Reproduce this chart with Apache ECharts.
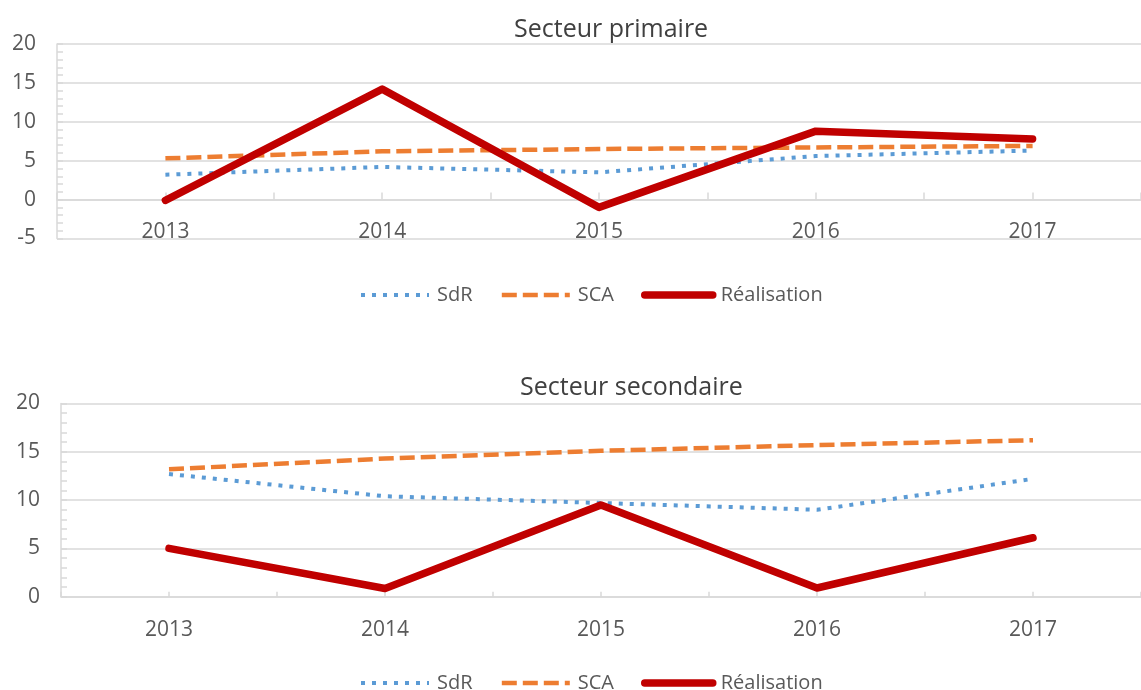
<!DOCTYPE html>
<html>
<head>
<meta charset="utf-8">
<script src="https://cdn.jsdelivr.net/npm/echarts@6/dist/echarts.min.js"></script>
<style>
html,body{margin:0;padding:0;background:#fff;}
#chart{width:1141px;height:690px;}
</style>
</head>
<body>
<div id="chart"></div>
<script>
const years = ['2013', '2014', '2015', '2016', '2017'];
const halfTicks = ['', '', '', '', '', '', '', '', '', ''];
const primSdR = [3.2, 4.2, 3.5, 5.6, 6.3];
const primSCA = [5.3, 6.2, 6.5, 6.7, 6.9];
const primReal = [-0.1, 14.2, -1.0, 8.8, 7.8];
const secSdR = [12.7, 10.4, 9.7, 9.0, 12.2];
const secSCA = [13.2, 14.3, 15.1, 15.7, 16.2];
const secReal = [5.0, 0.85, 9.5, 0.9, 6.1];
const titles = ['Secteur primaire', 'Secteur secondaire'];
const seriesNames = ['SdR', 'SCA', 'Réalisation'];

const FONT = 'Open Sans';
const GRID_C = '#d9d9d9';
const LABEL_C = '#595959';
const styles = [
  { color: '#5B9BD5', width: 4, type: [4, 7], cap: 'butt' },
  { color: '#ED7D31', width: 4.5, type: [15, 6], cap: 'butt' },
  { color: '#C00000', width: 7.5, type: 'solid', cap: 'round' }
];

function yAxis(gridIndex, min, max) {
  return {
    type: 'value', gridIndex, min, max, interval: 5,
    axisLine: { show: true, lineStyle: { color: GRID_C, width: 1.5 } },
    axisTick: { show: true, inside: true, length: 6, lineStyle: { color: GRID_C, width: 1.5 } },
    minorTick: { show: true, splitNumber: 5, length: 6, lineStyle: { color: GRID_C, width: 1.5 } },
    splitLine: { show: true, lineStyle: { color: GRID_C, width: 1.5 } },
    axisLabel: { margin: 21, fontSize: 21, fontFamily: FONT, color: LABEL_C }
  };
}
function xLabelAxis(gridIndex, margin) {
  return {
    type: 'category', gridIndex, data: years, position: 'bottom', boundaryGap: true,
    axisLine: { show: false, onZero: false },
    axisTick: { show: false },
    splitLine: { show: false },
    axisLabel: { margin, verticalAlign: 'middle', fontSize: 21, fontFamily: FONT, color: LABEL_C, interval: 0 }
  };
}
function xTickAxis(gridIndex, len) {
  return {
    type: 'category', gridIndex, data: halfTicks, position: 'bottom', boundaryGap: true,
    axisLine: { show: true, onZero: true, lineStyle: { color: GRID_C, width: 1.5 } },
    axisTick: { show: true, inside: true, length: len, interval: 0, lineStyle: { color: GRID_C, width: 1.5 } },
    axisLabel: { show: false },
    splitLine: { show: false }
  };
}
function makeSeries(name, data, idx, gridIdx) {
  const s = styles[idx];
  return {
    name, type: 'line', data, xAxisIndex: gridIdx * 2, yAxisIndex: gridIdx,
    symbol: 'none', smooth: false, z: 3 + idx,
    lineStyle: { color: s.color, width: s.width, type: s.type, cap: s.cap, join: 'round' },
    itemStyle: { color: s.color }
  };
}
function legend(top) {
  return {
    top, left: 354, itemWidth: 68, itemHeight: 14, itemGap: 27,
    textStyle: { fontSize: 20, fontFamily: FONT, color: LABEL_C, padding: [0, 0, 0, 3] },
    data: seriesNames.map((n, i) => ({
      name: n,
      itemStyle: { opacity: 0 },
      lineStyle: { color: styles[i].color, width: styles[i].width, type: styles[i].type, cap: styles[i].cap }
    }))
  };
}

const option = {
  backgroundColor: '#fff',
  animation: false,
  title: [
    { text: titles[0], left: 509, top: 12, textStyle: { fontSize: 25, fontWeight: 'normal', fontFamily: FONT, color: '#404040' } },
    { text: titles[1], left: 515, top: 370, textStyle: { fontSize: 25, fontWeight: 'normal', fontFamily: FONT, color: '#404040' } }
  ],
  legend: [legend(280), legend(668)],
  grid: [
    { left: 57, top: 44, width: 1087, height: 194.5 },
    { left: 61, top: 403.5, width: 1087, height: 193.2 }
  ],
  xAxis: [xLabelAxis(0, -6), xTickAxis(0, 7), xLabelAxis(1, 33), xTickAxis(1, 5)],
  yAxis: [yAxis(0, -5, 20), yAxis(1, 0, 20)],
  series: [
    makeSeries(seriesNames[0], primSdR, 0, 0),
    makeSeries(seriesNames[1], primSCA, 1, 0),
    makeSeries(seriesNames[2], primReal, 2, 0),
    makeSeries(seriesNames[0], secSdR, 0, 1),
    makeSeries(seriesNames[1], secSCA, 1, 1),
    makeSeries(seriesNames[2], secReal, 2, 1)
  ]
};
const chart = echarts.init(document.getElementById('chart'), null, { renderer: 'canvas' });
chart.setOption(option);
</script>
</body>
</html>
